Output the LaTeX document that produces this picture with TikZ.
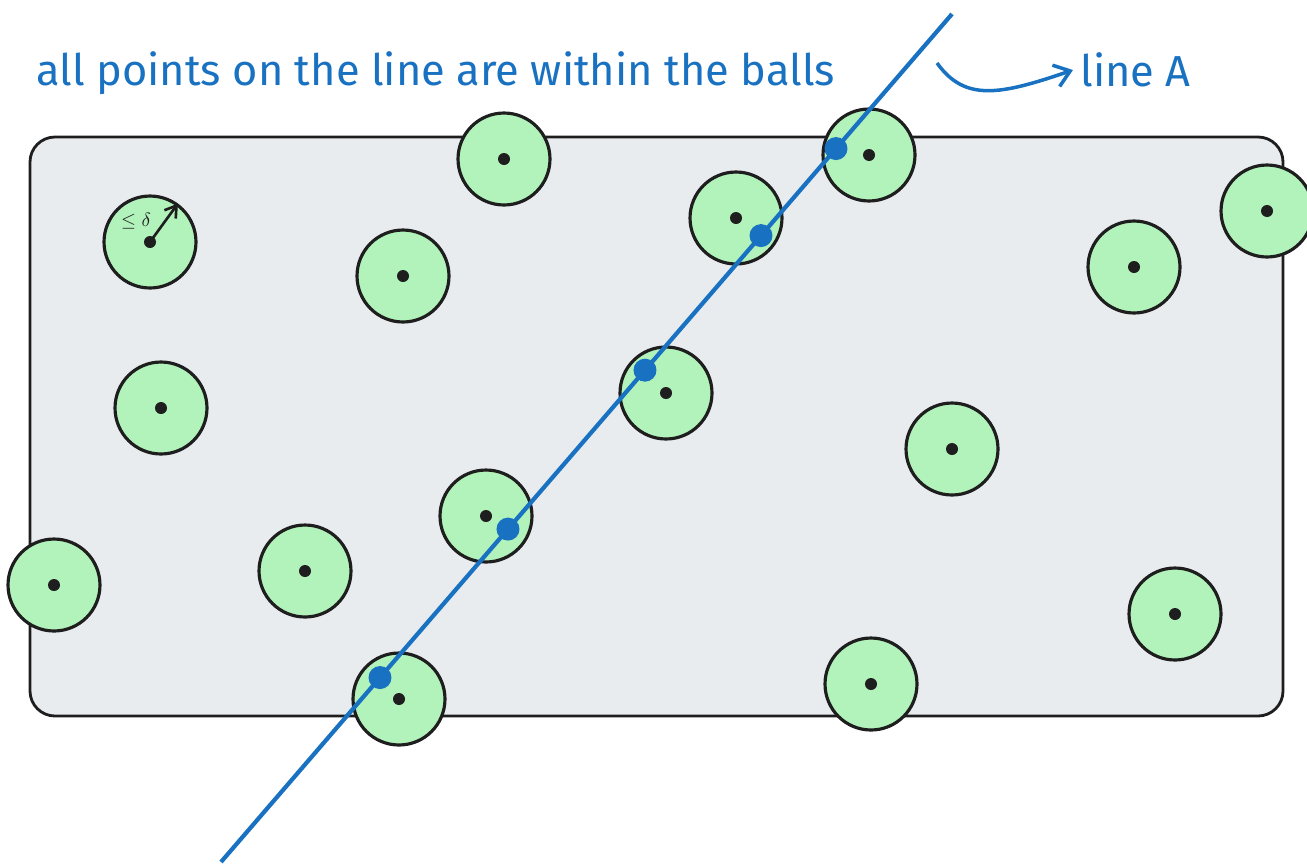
\documentclass[tikz,border=0pt]{standalone}
\usepackage{amsmath,amssymb}
\usepackage{fontspec}
\setmainfont{Fira Sans}
\usepackage{xcolor}
\usepackage{tikz}
\usetikzlibrary{arrows.meta}

\definecolor{ink}{RGB}{30,30,30}
\definecolor{inkblue}{RGB}{25,113,194}
\definecolor{ballgreen}{RGB}{178,242,187}
\definecolor{boxgray}{RGB}{233,236,239}

\begin{document}
\begin{tikzpicture}[x=0.02cm,y=-0.02cm,
  ball/.style={circle,draw=ink,fill=ballgreen,line width=1.8pt,minimum size=1.84cm,inner sep=0pt},
  centre/.style={circle,fill=ink,minimum size=0.24cm,inner sep=0pt},
  hit/.style={circle,fill=inkblue,minimum size=0.46cm,inner sep=0pt},
  note/.style={text=inkblue,anchor=west,inner sep=0pt,font=\fontsize{24.7}{28}\selectfont}]

% frame of the picture
\useasboundingbox (0,0) rectangle (1307,866);

% the region
\draw[ink,fill=boxgray,line width=1.6pt,rounded corners=0.5cm] (30,137) rectangle (1283,716);

% balls with their centres
\foreach \n/\x/\y in {1/150/242, 2/504/159, 3/403/276, 4/161/408, 5/54/585,
    6/305/571, 7/486/516, 8/399/699, 9/736/218, 10/869/155, 11/666/393,
    12/952/449, 13/1134/267, 14/1267/211, 15/1175/614, 16/871/684} {
  \node[ball] (b\n) at (\x,\y) {};
  \node[centre] (c\n) at (b\n.center) {};
}

% radius of a ball
\draw[ink,line width=1.5pt,-{Straight Barb[length=2.2mm,width=2.8mm]}] (c1.center) -- (b1.54);
\node[text=ink,font=\fontsize{11}{12}\selectfont] (delta) at (136,221) {$\le\delta$};

% line A
\coordinate (lo) at (221,862);
\coordinate (hi) at (952,14);
\draw[inkblue,line width=2.4pt] (lo) -- (hi);

% points of the line inside the balls
\foreach \p/\t in {1/0.2175, 2/0.3926, 3/0.58, 4/0.7387, 5/0.8413}
  \path (lo) -- (hi) node[hit,pos=\t] (h\p) {};

% annotations
\node[note] (title) at (36,73) {all points on the line are within the balls};
\node[note] (lineA) at (1080,70) {line A};
\coordinate (tail) at (937,63);
\draw[inkblue,line width=2pt,-{Straight Barb[length=3mm,width=4.5mm]}]
  (tail) .. controls (965,102) and (1000,95) .. ([xshift=-4pt]lineA.west);

\end{tikzpicture}
\end{document}
